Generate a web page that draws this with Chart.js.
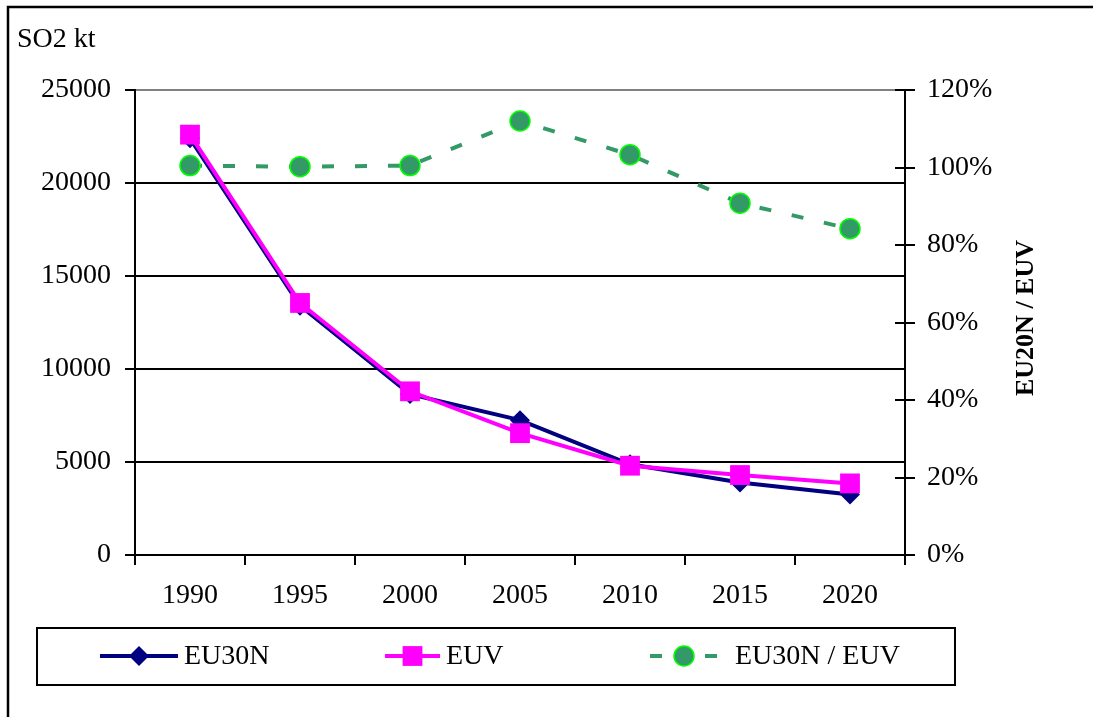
<!DOCTYPE html>
<html>
<head>
<meta charset="utf-8">
<script src="https://cdn.jsdelivr.net/npm/chart.js@4"></script>
<style>
    html, body { margin: 0; padding: 0; background: #fff; }
</style>
</head>
<body>
<canvas id="so2Chart" width="1093" height="717"></canvas>
<script>
// SO2 emissions (kt) per scenario and their ratio
const years = ['1990', '1995', '2000', '2005', '2010', '2015', '2020'];
const eu30n = [22400, 13400, 8650, 7250, 4880, 3900, 3250];
const euv = [22600, 13550, 8800, 6550, 4800, 4300, 3850];
const ratio = [100.5, 100.2, 100.5, 112, 103.3, 90.8, 84.2];

// axis ranges: [min, max, step]
const so2Axis = [0, 25000, 5000];
const ratioAxis = [0, 120, 20];

const FONT = "'Liberation Serif', 'Times New Roman', serif";
const FONT_SIZE = 28;
Chart.defaults.font.family = FONT;
Chart.defaults.font.size = FONT_SIZE;
Chart.defaults.color = '#000';

// legend, titles, frame and the inner half of the right-hand ticks
const decor = {
    id: 'decor',
    afterDraw(chart) {
        const ctx = chart.ctx;
        const area = chart.chartArea;
        ctx.save();

        // frame: only the top and left edges fall inside the canvas
        ctx.strokeStyle = '#000';
        ctx.lineWidth = 2.5;
        ctx.beginPath();
        ctx.moveTo(8, 730);
        ctx.lineTo(8, 7);
        ctx.lineTo(1100, 7);
        ctx.stroke();

        // inner ticks on the right axis
        const y2 = chart.scales.y2;
        ctx.lineWidth = 2;
        y2.ticks.forEach(t => {
            const py = Math.round(y2.getPixelForValue(t.value));
            ctx.beginPath();
            ctx.moveTo(area.right - 10, py);
            ctx.lineTo(area.right, py);
            ctx.stroke();
        });

        // axis titles
        ctx.fillStyle = '#000';
        ctx.font = FONT_SIZE + 'px ' + FONT;
        ctx.textAlign = 'left';
        ctx.textBaseline = 'alphabetic';
        ctx.fillText('SO2 kt', 17, 47);

        ctx.save();
        ctx.translate(1033, 318);
        ctx.rotate(-Math.PI / 2);
        ctx.font = 'bold 26px ' + FONT;
        ctx.textAlign = 'center';
        ctx.fillText('EU20N / EUV', 0, 0);
        ctx.restore();

        // legend box
        ctx.lineWidth = 2;
        ctx.strokeRect(37, 628, 918, 57);

        const ly = 656;
        const ds = chart.data.datasets;
        const items = [
            { d: ds[0], x0: 100, x1: 178, tx: 184 },
            { d: ds[1], x0: 385, x1: 440, tx: 446 },
            { d: ds[2], x0: 650, x1: 718, tx: 735 }
        ];
        items.forEach(it => {
            const d = it.d;
            const cx = (it.x0 + it.x1) / 2;
            ctx.strokeStyle = d.borderColor;
            ctx.lineWidth = d.borderWidth;
            ctx.setLineDash(d.borderDash ? [12, 43] : []);
            ctx.beginPath();
            ctx.moveTo(it.x0, ly);
            ctx.lineTo(it.x1, ly);
            ctx.stroke();
            ctx.setLineDash([]);

            ctx.fillStyle = d.pointBackgroundColor;
            ctx.beginPath();
            if (d.pointStyle === 'rectRot') {
                const r = d.pointRadius;
                ctx.moveTo(cx, ly - r);
                ctx.lineTo(cx + r, ly);
                ctx.lineTo(cx, ly + r);
                ctx.lineTo(cx - r, ly);
                ctx.closePath();
                ctx.fill();
            } else if (d.pointStyle === 'rect') {
                const s = d.pointRadius * Math.SQRT1_2;
                ctx.rect(cx - s, ly - s, 2 * s, 2 * s);
                ctx.fill();
            } else {
                ctx.arc(cx, ly, d.pointRadius, 0, Math.PI * 2);
                ctx.fill();
                ctx.strokeStyle = d.pointBorderColor;
                ctx.lineWidth = d.pointBorderWidth;
                ctx.stroke();
            }

            ctx.fillStyle = '#000';
            ctx.font = FONT_SIZE + 'px ' + FONT;
            ctx.textAlign = 'left';
            ctx.textBaseline = 'middle';
            ctx.fillText(d.label, it.tx, ly + 1);
        });

        ctx.restore();
    }
};

new Chart(document.getElementById('so2Chart'), {
    type: 'line',
    data: {
        labels: years,
        datasets: [
            {
                label: 'EU30N',
                data: eu30n,
                yAxisID: 'y',
                order: 1,
                borderColor: '#000080',
                borderWidth: 4,
                pointStyle: 'rectRot',
                pointRadius: 10,
                pointBackgroundColor: '#000080',
                pointBorderColor: '#000080',
                pointBorderWidth: 0
            },
            {
                label: 'EUV',
                data: euv,
                yAxisID: 'y',
                order: 0,
                borderColor: '#ff00ff',
                borderWidth: 4,
                pointStyle: 'rect',
                pointRadius: 14,
                pointBackgroundColor: '#ff00ff',
                pointBorderColor: '#ff00ff',
                pointBorderWidth: 0
            },
            {
                label: 'EU30N / EUV',
                data: ratio,
                yAxisID: 'y2',
                order: 2,
                borderColor: '#339966',
                borderWidth: 4,
                borderDash: [12, 21],
                pointStyle: 'circle',
                pointRadius: 10,
                pointBackgroundColor: '#339966',
                pointBorderColor: '#00ff00',
                pointBorderWidth: 1.5
            }
        ]
    },
    options: {
        responsive: false,
        animation: false,
        layout: { padding: { top: 90, bottom: 102, left: 0, right: 0 } },
        plugins: {
            legend: { display: false },
            tooltip: { enabled: false }
        },
        scales: {
            x: {
                offset: true,
                grid: {
                    offset: true,
                    drawOnChartArea: false,
                    color: '#000',
                    lineWidth: 2,
                    tickLength: 10
                },
                border: { color: '#000', width: 2 },
                ticks: { padding: 14, maxRotation: 0 },
                afterFit(s) { s.height = 60; }
            },
            y: {
                position: 'left',
                min: so2Axis[0],
                max: so2Axis[1],
                ticks: {
                    stepSize: so2Axis[2],
                    padding: 14,
                    callback: v => String(v)
                },
                grid: {
                    color: c => c.tick && c.tick.value === so2Axis[1] ? '#808080' : '#000',
                    tickColor: '#000',
                    lineWidth: 2,
                    tickLength: 10
                },
                border: { color: '#000', width: 2 },
                afterFit(s) { s.width = 135; }
            },
            y2: {
                position: 'right',
                min: ratioAxis[0],
                max: ratioAxis[1],
                ticks: {
                    stepSize: ratioAxis[2],
                    padding: 12,
                    callback: v => v + '%'
                },
                grid: {
                    drawOnChartArea: false,
                    color: '#000',
                    lineWidth: 2,
                    tickLength: 10
                },
                border: { color: '#000', width: 2 },
                afterFit(s) { s.width = 188; }
            }
        }
    },
    plugins: [decor]
});
</script>
</body>
</html>
